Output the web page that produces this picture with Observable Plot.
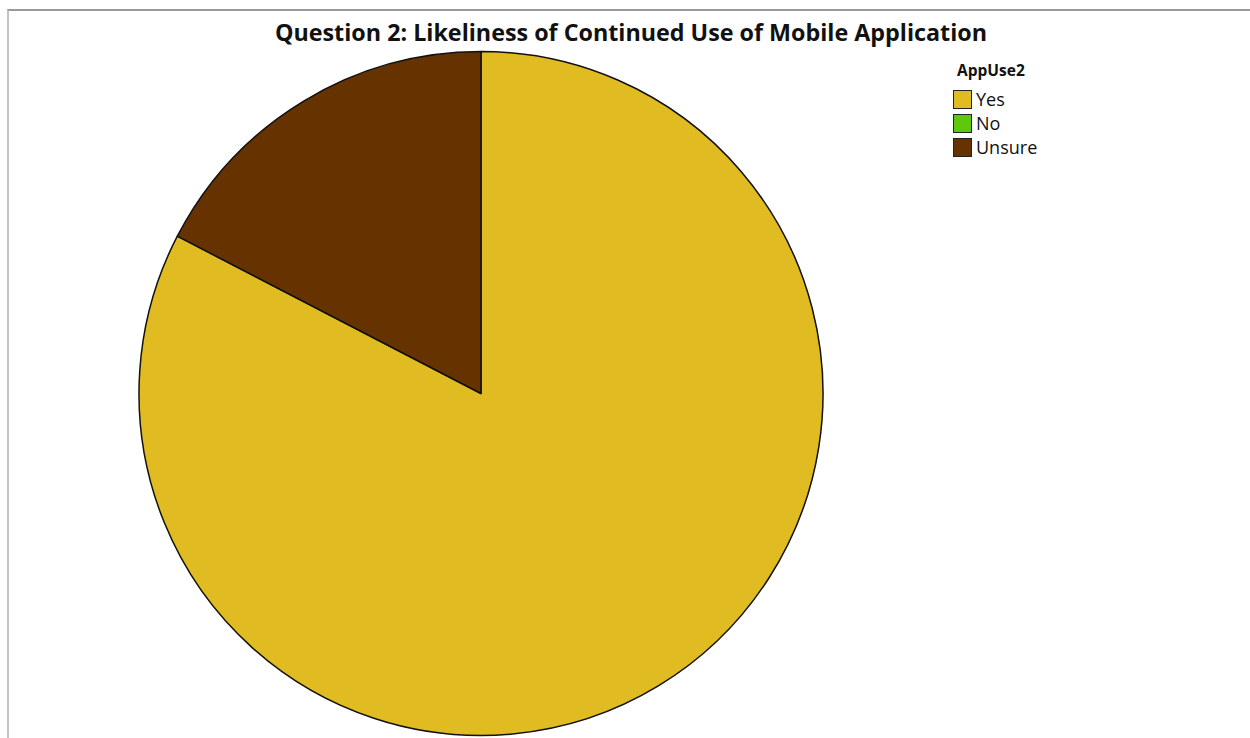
<!DOCTYPE html>
<html>
<head>
<meta charset="utf-8">
<script src="https://cdn.jsdelivr.net/npm/d3@7"></script>
<script src="https://cdn.jsdelivr.net/npm/@observablehq/plot@0.6"></script>
<style>
  html, body { margin: 0; padding: 0; background: #fff; }
  #wrap { position: relative; width: 1250px; height: 738px; overflow: hidden; }
  #frame { position: absolute; left: 7px; top: 9px; right: -5px; bottom: -5px;
           border-top: 2px solid #9a9a9a; border-left: 2px solid #c4c4c4; pointer-events: none; }
  #chart { position: absolute; left: 0; top: 0; }
  #title { position: absolute; left: 0; width: 1262px; top: 16px; text-align: center;
           font-family: "Open Sans", sans-serif; font-weight: 700; font-size: 23.3px; color: #111; }
  #legend { position: absolute; left: 953px; top: 59px; font-family: "Open Sans", sans-serif; color: #111; }
  #legend .lt { font-weight: 700; font-size: 15.5px; margin-left: 4px; margin-bottom: 6px; }
  #legend .row { display: flex; align-items: center; height: 24px; font-size: 18px; }
  #legend .sw { border: 1.5px solid #222; margin-right: 4px; box-sizing: border-box; width: 19px; height: 19px; }
</style>
</head>
<body>
<div id="wrap">
  <div id="chart"></div>
  <div id="frame"></div>
  <div id="title"></div>
  <div id="legend"></div>
</div>
<script>
const chartTitle = "Question 2: Likeliness of Continued Use of Mobile Application";
const legendTitle = "AppUse2";
const categories = ["Yes", "No", "Unsure"];
const counts = [19, 0, 4];
const colors = ["#E0BC22", "#5DC80C", "#663300"];

const W = 1250, H = 738;
const cx = 481, cy = 393.5, R = 342;

const data = categories.map((c, i) => ({category: c, count: counts[i]}));
const arcs = d3.pie().sort(null).value(d => d.count)(data);

const plot = Plot.plot({
  width: W,
  height: H,
  margin: 0,
  x: {domain: [0, W], axis: null},
  y: {domain: [0, H], axis: null, reverse: true},
  color: {domain: categories, range: colors},
  marks: [
    Plot.dot(arcs, {
      x: () => cx,
      y: () => cy,
      fill: d => d.data.category,
      render(index, scales, values, dimensions, context) {
        const arcGen = d3.arc().innerRadius(0).outerRadius(R);
        const g = d3.create("svg:g");
        const x0 = scales.x(cx), y0 = scales.y(cy);
        for (const i of index) {
          const a = arcs[i];
          if (a.endAngle - a.startAngle <= 0) continue;
          g.append("path")
            .attr("transform", `translate(${x0},${y0})`)
            .attr("d", arcGen(a))
            .attr("fill", scales.color(a.data.category))
            .attr("stroke", "#111")
            .attr("stroke-width", 1.5)
            .attr("stroke-linejoin", "round");
        }
        return g.node();
      }
    })
  ]
});
document.getElementById("chart").appendChild(plot);

document.getElementById("title").textContent = chartTitle;
const leg = d3.select("#legend");
leg.append("div").attr("class", "lt").text(legendTitle);
categories.forEach((c, i) => {
  const row = leg.append("div").attr("class", "row");
  row.append("div").attr("class", "sw").style("background", plot.scale("color").apply(c));
  row.append("span").text(c);
});
</script>
</body>
</html>
